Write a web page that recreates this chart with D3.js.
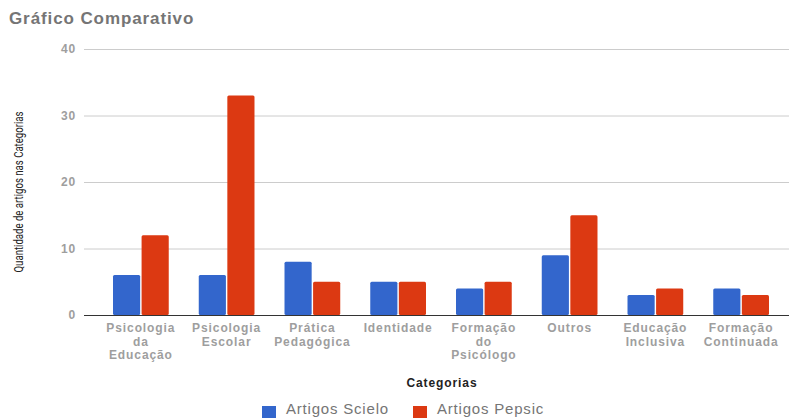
<!DOCTYPE html>
<html><head><meta charset="utf-8">
<script src="https://cdn.jsdelivr.net/npm/d3@7"></script>
<style>body{margin:0;background:#fff;} svg{display:block;font-family:'Liberation Sans',Arial,sans-serif;}</style>
</head><body><svg id="c" width="789" height="418"></svg>
<script>
const categories = [["Psicologia","da","Educação"],["Psicologia","Escolar"],["Prática","Pedagógica"],["Identidade"],["Formação","do","Psicólogo"],["Outros"],["Educação","Inclusiva"],["Formação","Continuada"]];
const seriesNames = ["Artigos Scielo","Artigos Pepsic"];
const scielo = [6,6,8,5,4,9,3,4];
const pepsic = [12,33,5,5,5,15,4,3];
const yTicks = [0,10,20,30,40];
const colors = ["#3366cc","#dc3912"];
const FONT = "'Liberation Sans',Arial,sans-serif";

const svg = d3.select("#c");
const x = d3.scaleBand().domain(d3.range(categories.length)).range([98,784]).paddingInner(0.35).paddingOuter(0.175);
const x1 = d3.scaleBand().domain([0,1]).range([0,x.bandwidth()]).paddingInner(0.05);
const y = d3.scaleLinear().domain([0,40]).range([315,49]);

svg.append("text").attr("x",9).attr("y",24).text("Gráfico Comparativo")
  .attr("font-size",17).attr("font-weight","bold").attr("fill","#757575").attr("letter-spacing","0.9px");

const yAxis = svg.append("g").attr("transform","translate(84,0)")
  .call(d3.axisLeft(y).tickValues(yTicks).tickSize(-705).tickFormat(d3.format("d")));
yAxis.select(".domain").remove();
yAxis.selectAll(".tick line").attr("stroke","#cccccc");
yAxis.selectAll(".tick text").attr("x",-8).attr("font-size",12).attr("font-weight","bold").attr("fill","#9e9e9e")
  .attr("font-family",FONT).attr("letter-spacing","0.8px");

const data = categories.map((c,i)=>[scielo[i],pepsic[i]]);
const g = svg.append("g");
data.forEach((vals,i)=>{
  vals.forEach((v,j)=>{
    g.append("rect").attr("x",x(i)+x1(j)).attr("y",y(v)).attr("width",x1.bandwidth()).attr("height",y(0)-y(v))
     .attr("fill",colors[j]).attr("rx",1.5);
  });
});
svg.append("line").attr("x1",84).attr("x2",789).attr("y1",y(0)+0.5).attr("y2",y(0)+0.5).attr("stroke","#333");

const xAxis = svg.append("g").attr("transform","translate(0,315)")
  .call(d3.axisBottom(x).tickSize(0).tickFormat(""));
xAxis.select(".domain").remove();
xAxis.selectAll(".tick").each(function(d){
  const t = d3.select(this).append("text").attr("text-anchor","middle").attr("font-size",12).attr("font-weight","bold")
    .attr("fill","#9e9e9e").attr("letter-spacing","0.9px").attr("font-family",FONT);
  categories[d].forEach((line,k)=>t.append("tspan").attr("x",0).attr("y",17+k*13.5).text(line));
});

svg.append("text").attr("x",442).attr("y",387).attr("text-anchor","middle").text("Categorias")
  .attr("font-size",12).attr("font-weight","bold").attr("fill","#222").attr("letter-spacing","0.9px");
svg.append("text").attr("transform","translate(23,192) rotate(-90)").attr("text-anchor","middle")
  .text("Quantidade de artigos nas Categorias").attr("font-size",12.5).attr("font-family","'Liberation Sans Narrow',Roboto,sans-serif")
  .attr("textLength",161).attr("lengthAdjust","spacingAndGlyphs").attr("fill","#222");

const legX = [262,413];
seriesNames.forEach((n,i)=>{
  svg.append("rect").attr("x",legX[i]).attr("y",406).attr("width",14).attr("height",14).attr("fill",colors[i]);
  svg.append("text").attr("x",legX[i]+24).attr("y",414).text(n).attr("font-size",15).attr("fill","#757575")
    .attr("letter-spacing","0.8px");
});
</script></body></html>
